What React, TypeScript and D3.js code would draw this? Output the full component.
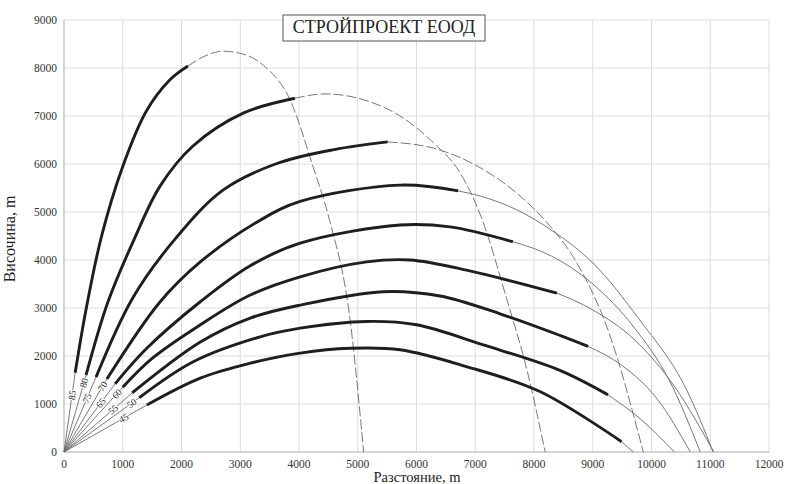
import React from 'react';
import * as d3 from 'd3';

const xTicks = [0, 1000, 2000, 3000, 4000, 5000, 6000, 7000, 8000, 9000, 10000, 11000, 12000];
const yTicks = [0, 1000, 2000, 3000, 4000, 5000, 6000, 7000, 8000, 9000];
const angleLabels = ['85', '80', '75', '70', '65', '60', '55', '50', '45'];

const thick85 = [[190, 1650], [380, 3000], [640, 4500], [1000, 5950], [1400, 7100], [1800, 7750], [2110, 8040]];
const tail85 = [[2110, 8040], [2400, 8250], [2710, 8350], [3050, 8290], [3400, 8050], [3850, 7330], [4240, 5940], [4520, 4830], [4870, 2750], [5100, 0]];

const thick80 = [[375, 1600], [740, 3100], [1190, 4420], [1640, 5550], [2200, 6380], [3050, 7060], [3930, 7370]];
const tail80 = [[3930, 7370], [4440, 7460], [5200, 7300], [5720, 7000], [6280, 6450], [6750, 5800], [7100, 4900], [7540, 3170], [7880, 1710], [8190, 0]];

const thick75 = [[545, 1560], [1170, 3210], [1900, 4450], [2700, 5450], [3600, 6000], [4600, 6300], [5510, 6460]];
const tail75 = [[5510, 6460], [6290, 6330], [7000, 5980], [7700, 5400], [8220, 4780], [8700, 4000], [9260, 2540], [9860, 0]];

const thick70 = [[730, 1520], [1630, 3120], [2320, 3960], [3340, 4830], [4020, 5220], [5720, 5560], [6710, 5440]];
const tail70 = [[6710, 5440], [7090, 5330], [7700, 5050], [8300, 4620], [9000, 3940], [9800, 2750], [10600, 1290], [11050, 0]];

const thick65 = [[870, 1420], [1400, 2150], [2320, 3130], [3170, 3880], [4020, 4350], [5720, 4730], [6570, 4690], [7640, 4380]];
const tail65 = [[7640, 4380], [8300, 4080], [9000, 3500], [9700, 2600], [10300, 1500], [10830, 0]];

const thick60 = [[1000, 1350], [1500, 1950], [2320, 2650], [3170, 3270], [4020, 3650], [5150, 3960], [5890, 4000], [6850, 3790], [8390, 3310]];
const tail60 = [[8390, 3310], [9000, 2960], [9700, 2350], [10400, 1350], [11060, 0]];

const thick55 = [[1160, 1230], [2320, 2290], [3170, 2790], [4020, 3060], [5430, 3340], [6400, 3250], [7420, 2880], [8440, 2430], [8920, 2200]];
const tail55 = [[8920, 2200], [9500, 1800], [10100, 1100], [10660, 0]];

const thick50 = [[1280, 1130], [2200, 1880], [3340, 2400], [4020, 2580], [5150, 2720], [6000, 2650], [7140, 2230], [8440, 1700], [9260, 1190]];
const tail50 = [[9260, 1190], [9800, 700], [10390, 0]];

const thick45 = [[1410, 980], [2320, 1540], [3170, 1850], [4020, 2060], [4870, 2160], [5720, 2130], [6850, 1780], [8100, 1260], [9490, 215]];
const tail45 = [[9490, 215], [9690, 0]];

const thickSeries = [thick85, thick80, thick75, thick70, thick65, thick60, thick55, thick50, thick45];
const tailSeries = [tail85, tail80, tail75, tail70, tail65, tail60, tail55, tail50, tail45];
const dashedTail = [true, true, true, false, false, false, false, false, false];

const W = 788;
const H = 484;
const left = 64;
const right = 769;
const top = 20;
const bottom = 452;

export default function App() {
  const x = d3.scaleLinear().domain([0, 12000]).range([left, right]);
  const y = d3.scaleLinear().domain([0, 9000]).range([bottom, top]);
  const tailLine = d3
    .line<number[]>()
    .x((d) => x(d[0]))
    .y((d) => y(d[1]))
    .curve(d3.curveMonotoneX);
  const thickLine = d3
    .line<number[]>()
    .x((d) => x(d[0]))
    .y((d) => y(d[1]))
    .curve(d3.curveCatmullRom.alpha(0.5));
  const font = '"Liberation Serif", "Times New Roman", serif';

  return (
    <svg
      width={W}
      height={H}
      style={{ position: 'absolute', left: 0, top: 0, background: '#fff' }}
      fontFamily={font}
    >
      <rect x={0} y={0} width={W} height={H} fill="#fff" />
      {xTicks.map((t) => (
        <line key={'gx' + t} x1={x(t)} x2={x(t)} y1={y(0)} y2={y(9000)} stroke="#dcdcdc" strokeWidth={1} />
      ))}
      {yTicks.map((t) => (
        <line key={'gy' + t} x1={x(0)} x2={x(12000)} y1={y(t)} y2={y(t)} stroke="#dcdcdc" strokeWidth={1} />
      ))}
      <line x1={x(0)} x2={x(0)} y1={y(0)} y2={y(9000)} stroke="#bbb" />
      <line x1={x(0)} x2={x(12000)} y1={y(0)} y2={y(0)} stroke="#bbb" />

      {yTicks.map((t) => (
        <text key={'ty' + t} x={x(0) - 7} y={y(t)} dy="0.35em" textAnchor="end" fontSize={11.5} fill="#333">
          {t}
        </text>
      ))}
      {xTicks.map((t) => (
        <text key={'tx' + t} x={x(t)} y={y(0) + 16} textAnchor="middle" fontSize={11.5} fill="#333">
          {t}
        </text>
      ))}

      {thickSeries.map((s, i) => (
        <line
          key={'ray' + i}
          x1={x(0)}
          y1={y(0)}
          x2={x(s[0][0])}
          y2={y(s[0][1])}
          stroke="#6a6a6a"
          strokeWidth={0.9}
        />
      ))}
      {tailSeries.map((s, i) => (
        <path
          key={'tail' + i}
          d={tailLine(s) || ''}
          fill="none"
          stroke="#777"
          strokeWidth={1}
          strokeDasharray={dashedTail[i] ? '10,3' : undefined}
        />
      ))}
      {thickSeries.map((s, i) => (
        <path key={'thick' + i} d={thickLine(s) || ''} fill="none" stroke="#1e1e1e" strokeWidth={2.9} strokeLinecap="butt" />
      ))}

      {thickSeries.map((s, i) => {
        const px = x(s[0][0]) - x(0);
        const py = y(s[0][1]) - y(0);
        const f = i % 2 === 0 ? 0.72 : 0.9;
        const lx = x(0) + px * f;
        const ly = y(0) + py * f;
        const ang = (Math.atan2(py, px) * 180) / Math.PI;
        return (
          <text
            key={'lab' + i}
            x={lx}
            y={ly}
            transform={`rotate(${ang} ${lx} ${ly})`}
            textAnchor="middle"
            dy="0.35em"
            fontSize={9.5}
            fill="#222"
            stroke="#fff"
            strokeWidth={2}
            paintOrder="stroke"
          >
            {angleLabels[i]}
          </text>
        );
      })}

      <rect x={283} y={15} width={202} height={26} fill="#fff" stroke="#555" strokeWidth={1} />
      <text x={384} y={33} textAnchor="middle" fontSize={18} fill="#222">
        СТРОЙПРОЕКТ ЕООД
      </text>

      <text transform={`translate(15,239) rotate(-90)`} textAnchor="middle" fontSize={16} fill="#222">
        Височина, m
      </text>
      <text x={417} y={481.5} textAnchor="middle" fontSize={14.5} fill="#222">
        Разстояние, m
      </text>
    </svg>
  );
}
